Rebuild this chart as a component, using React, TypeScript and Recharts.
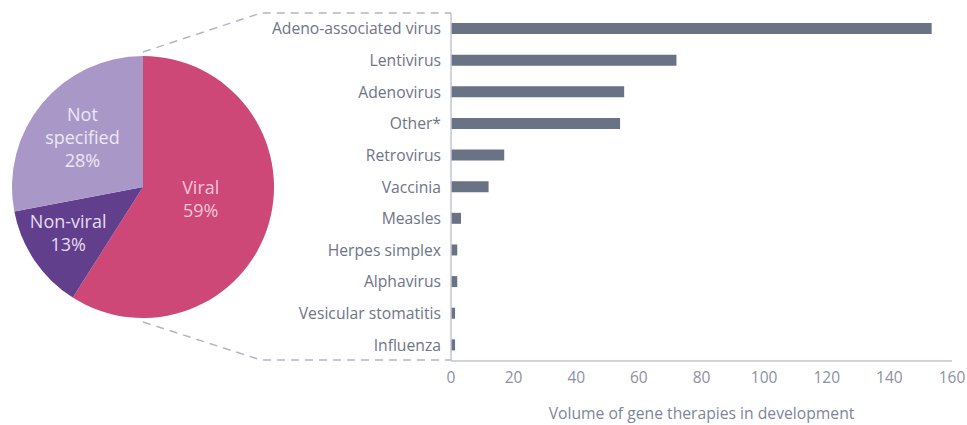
import React from "react";
import { PieChart, Pie, Cell, BarChart, Bar, XAxis, YAxis } from "recharts";

const pieNames = ["Viral", "Non-viral", "Not specified"];
const pieValues = [59, 13, 28];
const pieColors = ["#cd4777", "#623f8c", "#a897c7"];
const pieLabelLines = [["Viral", "59%"], ["Non-viral", "13%"], ["Not", "specified", "28%"]];
const pieLabelColors = ["#f3c6d8", "#e6dcf0", "#ece8f5"];

const categories = [
  "Adeno-associated virus",
  "Lentivirus",
  "Adenovirus",
  "Other*",
  "Retrovirus",
  "Vaccinia",
  "Measles",
  "Herpes simplex",
  "Alphavirus",
  "Vesicular stomatitis",
  "Influenza",
];
const barValues = [153.5, 72, 55.3, 54, 17, 12, 3.2, 2, 2, 1.3, 1.3];
const xTicks = [0, 20, 40, 60, 80, 100, 120, 140, 160];
const xLabel = "Volume of gene therapies in development";

const pieData = pieNames.map((name, i) => ({ name, value: pieValues[i] }));
const barData = categories.map((name, i) => ({ name, value: barValues[i] }));

const FONT = "'Open Sans', sans-serif";
const RAD = Math.PI / 180;
const labelRadiusFrac = [0.45, 0.67, 0.6];
const labelAngleShift = [4.5, -2.7, 0];

const renderPieLabel = (props: any) => {
  const { cx, cy, midAngle, outerRadius, index } = props;
  const r = outerRadius * labelRadiusFrac[index];
  const a = (midAngle + labelAngleShift[index]) * RAD;
  const x = cx + r * Math.cos(a);
  const y = cy - r * Math.sin(a);
  const lines = pieLabelLines[index];
  const lh = 23;
  const start = y - ((lines.length - 1) * lh) / 2;
  return (
    <text
      x={x}
      y={start}
      textAnchor="middle"
      dominantBaseline="central"
      fill={pieLabelColors[index]}
      fontFamily={FONT}
      fontSize={18}
    >
      {lines.map((l, j) => (
        <tspan key={j} x={x} y={start + j * lh} dominantBaseline="central">
          {l}
        </tspan>
      ))}
    </text>
  );
};

export default function App() {
  return (
    <div style={{ position: "absolute", left: 0, top: 0, width: 967, height: 425, background: "#fff", fontFamily: FONT }}>
      <div style={{ position: "absolute", left: 0, top: 0 }}>
        <PieChart width={290} height={425} margin={{ top: 0, right: 0, bottom: 0, left: 0 }}>
          <Pie
            data={pieData}
            dataKey="value"
            nameKey="name"
            cx={143}
            cy={187}
            outerRadius={131}
            startAngle={90}
            endAngle={-270}
            stroke="none"
            isAnimationActive={false}
            labelLine={false}
            label={renderPieLabel}
          >
            {pieData.map((d, i) => (
              <Cell key={d.name} fill={pieColors[i]} />
            ))}
          </Pie>
        </PieChart>
      </div>
      <div style={{ position: "absolute", left: 0, top: 0 }}>
        <BarChart
          width={967}
          height={425}
          data={barData}
          layout="vertical"
          margin={{ top: 13, right: 15, bottom: 0, left: 0 }}
          barCategoryGap={0}
        >
          <XAxis
            type="number"
            domain={[0, 160]}
            ticks={xTicks}
            tickLine={false}
            axisLine={{ stroke: "#c3c6d2", strokeWidth: 1.5 }}
            tick={{ fill: "#8d91a1", fontSize: 15.5, fontFamily: FONT }}
            tickMargin={5}
            height={64}
            interval={0}
            label={{ value: xLabel, position: "insideBottom", offset: 6, fill: "#80859a", fontSize: 15.7, fontFamily: FONT }}
          />
          <YAxis
            type="category"
            dataKey="name"
            width={451}
            tickLine={false}
            axisLine={{ stroke: "#c3c6d2", strokeWidth: 1.5 }}
            tick={{ fill: "#6f7487", fontSize: 15.7, fontFamily: FONT }}
            tickMargin={4}
            interval={0}
          />
          <Bar dataKey="value" fill="#6a7286" barSize={11} isAnimationActive={false} />
        </BarChart>
      </div>
      <svg width={967} height={425} style={{ position: "absolute", left: 0, top: 0, pointerEvents: "none" }}>
        <polyline points="143,52 261,13 451,13" fill="none" stroke="#b3b6c5" strokeWidth={1.5} strokeDasharray="8 6" />
        <polyline points="143,322 261,360 451,360" fill="none" stroke="#b3b6c5" strokeWidth={1.5} strokeDasharray="8 6" />
      </svg>
    </div>
  );
}
